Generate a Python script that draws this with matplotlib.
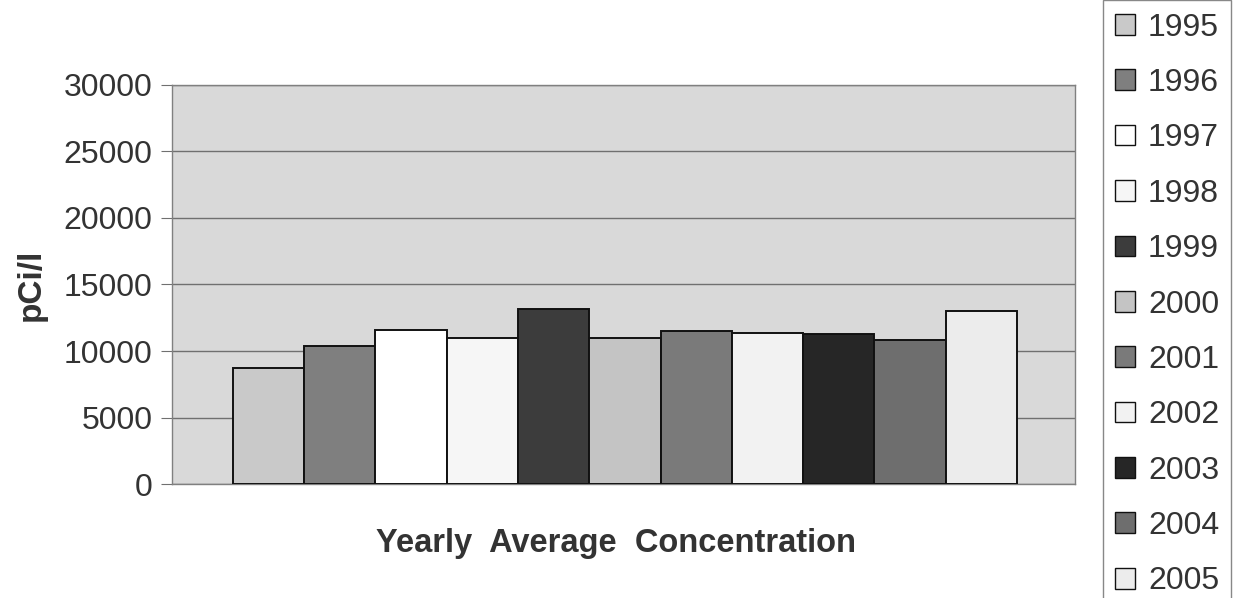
import numpy as np
import matplotlib
matplotlib.use('Agg')
import matplotlib.pyplot as plt

plt.rcParams['font.family'] = ['Liberation Sans', 'DejaVu Sans']

# yearly average concentration, pCi/l
years = ['1995', '1996', '1997', '1998', '1999', '2000',
         '2001', '2002', '2003', '2004', '2005']
conc = [8700, 10400, 11600, 11000, 13150, 10950,
        11500, 11350, 11300, 10850, 13000]
y_ticks = [0, 5000, 10000, 15000, 20000, 25000, 30000]

# grey shades of the old printout
bar_colors = ['#c9c9c9', '#7f7f7f', '#ffffff', '#f6f6f6', '#3c3c3c', '#c4c4c4',
              '#7a7a7a', '#f2f2f2', '#262626', '#6e6e6e', '#ececec']

fig = plt.figure(figsize=(12.39, 5.98), dpi=100)
ax = fig.add_axes([0.1388, 0.1906, 0.7288, 0.6673])
ax.set_facecolor('#d9d9d9')

x = np.arange(len(years))
for i in range(len(years)):
    ax.bar(x[i], conc[i], width=1.0, color=bar_colors[i], edgecolor='#111111',
           linewidth=1.4, label=years[i], zorder=3)

ax.set_xlim(-1.355, 11.313)
ax.set_ylim(0, 30000)
ax.set_yticks(y_ticks)
ax.set_xticks([])
ax.yaxis.grid(True, color='#707070', linewidth=1.0, zorder=1)
ax.tick_params(axis='y', labelsize=23, labelcolor='#333333', length=8,
               color='#707070', pad=6)
for s in ax.spines.values():
    s.set_color('#808080')
    s.set_linewidth(1.0)

ax.set_ylabel('pCi/l', fontsize=24, fontweight='bold', color='#333333', labelpad=12)
ax.set_xlabel('Yearly  Average  Concentration', fontsize=23.5, fontweight='bold',
              color='#333333', labelpad=34)
ax.xaxis.set_label_coords(0.492, -0.11)

# legend runs off the top and bottom of the page, like the scan
leg = fig.legend(loc='center left', bbox_to_anchor=(0.890, 0.4908), fontsize=23,
                 labelspacing=0.795, handlelength=0.62, handleheight=0.62,
                 handletextpad=0.42, borderpad=0.38, borderaxespad=0,
                 fancybox=False, edgecolor='#888888', framealpha=1)
for t in leg.get_texts():
    t.set_color('#333333')
for h in leg.legend_handles:
    h.set_linewidth(1.0)

fig.savefig('out.png', dpi=100)
